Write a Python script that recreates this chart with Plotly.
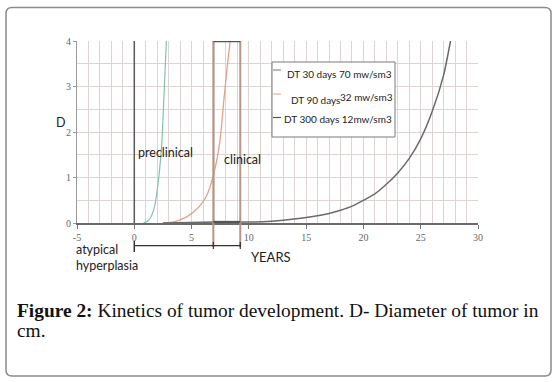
import plotly.graph_objects as go

# ---------------- data ----------------
series_names = ["DT 30 days 70 mw/sm3", "DT 90 days 32 mw/sm3", "DT 300 days 12mw/sm3"]

dt30_years = [0.8, 1.0, 1.2, 1.4, 1.6, 1.8, 2.0, 2.2, 2.4, 2.6, 2.8]
dt30_diam = [0.0, 0.02, 0.05, 0.11, 0.22, 0.40, 0.72, 1.15, 1.75, 2.85, 4.0]

dt90_years = [2.5, 3.0, 3.5, 4.0, 4.6, 5.3, 5.9, 6.4, 6.8, 7.2, 7.5, 7.85, 8.1, 8.37]
dt90_diam = [0.0, 0.01, 0.03, 0.07, 0.14, 0.27, 0.43, 0.65, 0.95, 1.38, 1.85, 2.78, 3.4, 4.0]

dt300_years = [2.5, 5, 7, 9, 10, 12, 13, 15, 17, 18, 19, 20, 21, 22, 23, 24, 25, 26, 27, 27.6]
dt300_diam = [0.0, 0.01, 0.02, 0.02, 0.02, 0.04, 0.06, 0.12, 0.21, 0.28, 0.37, 0.50, 0.64, 0.85,
              1.10, 1.42, 1.85, 2.45, 3.25, 4.0]

x_ticks = [-5, 0, 5, 10, 15, 20, 25, 30]
y_ticks = [0, 1, 2, 3, 4]

# phase boundaries (years)
start_year = 0
clinical_start = 6.9
clinical_end = 9.25

# ---------------- layout helpers ----------------
W, H = 557, 382
L, R, T, B = 77, 478, 41, 223


def px(x):
    return (x - L) / (R - L)


def py(y):
    return (B - y) / (B - T)


colors = ["#86c2ae", "#e3a08a", "#6a6a6a"]
grid_col = "#ddd4d4"

fig = go.Figure()
for xs, ys, nm, c, w in [
    (dt30_years, dt30_diam, series_names[0], colors[0], 1.2),
    (dt90_years, dt90_diam, series_names[1], colors[1], 1.3),
    (dt300_years, dt300_diam, series_names[2], colors[2], 1.5),
]:
    fig.add_trace(go.Scatter(x=xs, y=ys, mode="lines", name=nm,
                             line=dict(color=c, width=w, shape="spline", smoothing=0.6),
                             showlegend=False))

shapes = []
# outer rounded frame
r = 6
x0, y0, x1, y1 = 6, 7.5, 551, 376
path = (f"M {px(x0 + r)},{py(y0)} L {px(x1 - r)},{py(y0)} Q {px(x1)},{py(y0)} {px(x1)},{py(y0 + r)} "
        f"L {px(x1)},{py(y1 - r)} Q {px(x1)},{py(y1)} {px(x1 - r)},{py(y1)} "
        f"L {px(x0 + r)},{py(y1)} Q {px(x0)},{py(y1)} {px(x0)},{py(y1 - r)} "
        f"L {px(x0)},{py(y0 + r)} Q {px(x0)},{py(y0)} {px(x0 + r)},{py(y0)} Z")
shapes.append(dict(type="path", xref="paper", yref="paper", path=path,
                   line=dict(color="#8a8a8a", width=1.5), layer="below"))

# vertical line at year 0
shapes.append(dict(type="line", xref="x", yref="y", x0=start_year, x1=start_year, y0=0, y1=4,
                   line=dict(color="#5a5a5a", width=1.5)))
# clinical box edges (extend below axis to bracket)
for xv in [clinical_start, clinical_end]:
    shapes.append(dict(type="line", xref="x", yref="paper", x0=xv, x1=xv, y0=py(247), y1=1,
                       line=dict(color="#b89488", width=2)))
shapes.append(dict(type="line", xref="x", yref="y", x0=clinical_start, x1=clinical_end, y0=4, y1=4,
                   line=dict(color="#555555", width=2.5)))
shapes.append(dict(type="line", xref="x", yref="y", x0=clinical_start, x1=clinical_end, y0=0.02, y1=0.02,
                   line=dict(color="#555555", width=2.5)))

# bracket below axis
yb = py(245.7)
shapes.append(dict(type="line", xref="x", yref="paper", x0=start_year, x1=clinical_end, y0=yb, y1=yb,
                   line=dict(color="#333333", width=1.3)))
shapes.append(dict(type="line", xref="x", yref="paper", x0=start_year, x1=start_year, y0=py(252), y1=py(241),
                   line=dict(color="#333333", width=1.5)))
for xv in [clinical_start, clinical_end]:
    shapes.append(dict(type="line", xref="x", yref="paper", x0=xv, x1=xv, y0=py(249), y1=py(242),
                       line=dict(color="#333333", width=1.2)))

# manual legend
shapes.append(dict(type="rect", xref="paper", yref="paper", x0=px(272), x1=px(395), y0=py(137), y1=py(62),
                   line=dict(color="#7a7a7a", width=1), fillcolor="white"))
leg_line_y = [70, 94, 117.5]
leg_line_c = ["#8a8a8a", "#e3b0a8", "#555555"]
for yy, c in zip(leg_line_y, leg_line_c):
    shapes.append(dict(type="line", xref="paper", yref="paper", x0=px(273), x1=px(281), y0=py(yy), y1=py(yy),
                       line=dict(color=c, width=1.2)))

sans = "Lato, Open Sans, sans-serif"
serif = "Liberation Serif, Times New Roman, serif"
ann = []


def text(x, y, s, size, fam=sans, color="#222", anchor="left"):
    ann.append(dict(xref="paper", yref="paper", x=px(x), y=py(y), text=s, showarrow=False,
                    xanchor=anchor, yanchor="middle", font=dict(family=fam, size=size, color=color)))


text(394, 74, "DT 30 days 70 mw/sm3", 10, anchor="right")
text(289, 99.5, "DT 90 days", 10)
text(395, 97, "32 mw/sm3", 10, anchor="right")
text(394, 118.5, "DT 300 days 12mw/sm3", 10, anchor="right")

text(54, 123, "D", 12.5)
text(136, 152, "preclinical", 12.5)
text(222, 159, "clinical", 12.5)
text(74, 249, "atypical", 12.5)
text(74, 265.5, "hyperplasia", 12.5)
text(249, 257, "YEARS", 13)

text(15, 310, "<b>Figure 2:</b> Kinetics of tumor development. D- Diameter of tumor in", 19.4, fam=serif, color="#111")
text(15, 330, "cm.", 19.4, fam=serif, color="#111")

fig.update_layout(
    width=W, height=H,
    margin=dict(l=L, r=W - R, t=T, b=H - B, pad=0),
    paper_bgcolor="white", plot_bgcolor="white",
    shapes=shapes, annotations=ann, showlegend=False,
    xaxis=dict(range=[-5, 30], tickvals=x_ticks, ticktext=[str(v) for v in x_ticks],
               showgrid=True, gridcolor=grid_col, gridwidth=1,
               minor=dict(dtick=1, showgrid=True, gridcolor=grid_col, gridwidth=1),
               showline=True, linecolor="#6a6a6a", linewidth=1.5,
               ticks="outside", ticklen=4, tickcolor="#777",
               tickfont=dict(family=serif, size=10, color="#666"), zeroline=False, fixedrange=True),
    yaxis=dict(range=[0, 4], tickvals=y_ticks, ticktext=[str(v) for v in y_ticks],
               showgrid=True, gridcolor=grid_col, gridwidth=1,
               minor=dict(dtick=0.5, showgrid=True, gridcolor=grid_col, gridwidth=1),
               showline=True, linecolor="#9a9a9a", linewidth=1,
               ticks="outside", ticklen=3, tickcolor="#999",
               tickfont=dict(family=serif, size=10, color="#666"), zeroline=False, fixedrange=True),
)

fig.write_html("out.html", config={"displayModeBar": False},
               post_script="document.body.style.margin='0';document.body.style.overflow='hidden';")
